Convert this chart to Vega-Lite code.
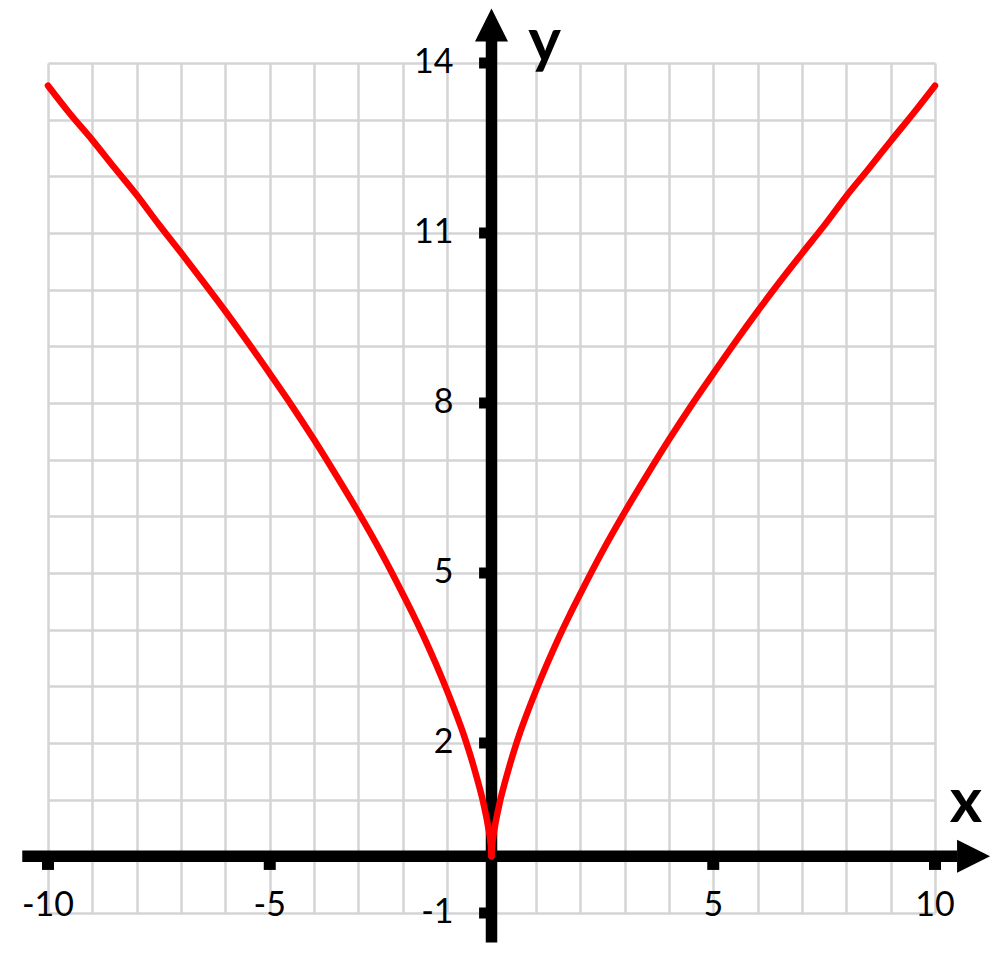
{
  "$schema": "https://vega.github.io/schema/vega-lite/v6.json",
  "width": 887,
  "height": 850,
  "autosize": {"type": "none"},
  "padding": {"left": 48, "top": 63, "right": 65, "bottom": 45},
  "background": "white",
  "config": {
    "view": {"stroke": null},
    "axis": {
      "grid": true,
      "gridColor": "#d4d4d4",
      "gridWidth": 2.5,
      "gridOpacity": 1,
      "labels": false,
      "ticks": false,
      "domain": false,
      "title": null
    }
  },
  "datasets": {
    "curve": [
      {"branch": "left", "x": -10, "y": 13.6},
      {"branch": "left", "x": -9.5, "y": 13.1},
      {"branch": "left", "x": -9, "y": 12.64},
      {"branch": "left", "x": -8.5, "y": 12.15},
      {"branch": "left", "x": -8, "y": 11.67},
      {"branch": "left", "x": -7.5, "y": 11.15},
      {"branch": "left", "x": -7, "y": 10.65},
      {"branch": "left", "x": -6.5, "y": 10.14},
      {"branch": "left", "x": -6, "y": 9.62},
      {"branch": "left", "x": -5.5, "y": 9.08},
      {"branch": "left", "x": -5, "y": 8.52},
      {"branch": "left", "x": -4.5, "y": 7.95},
      {"branch": "left", "x": -4, "y": 7.35},
      {"branch": "left", "x": -3.5, "y": 6.72},
      {"branch": "left", "x": -3, "y": 6.07},
      {"branch": "left", "x": -2.5, "y": 5.38},
      {"branch": "left", "x": -2, "y": 4.63},
      {"branch": "left", "x": -1.75, "y": 4.24},
      {"branch": "left", "x": -1.5, "y": 3.83},
      {"branch": "left", "x": -1.25, "y": 3.39},
      {"branch": "left", "x": -1, "y": 2.92},
      {"branch": "left", "x": -0.8, "y": 2.52},
      {"branch": "left", "x": -0.65, "y": 2.2},
      {"branch": "left", "x": -0.5, "y": 1.84},
      {"branch": "left", "x": -0.4, "y": 1.58},
      {"branch": "left", "x": -0.3, "y": 1.3},
      {"branch": "left", "x": -0.2, "y": 1.0},
      {"branch": "left", "x": -0.15, "y": 0.82},
      {"branch": "left", "x": -0.1, "y": 0.63},
      {"branch": "left", "x": -0.06, "y": 0.45},
      {"branch": "left", "x": -0.03, "y": 0.3},
      {"branch": "left", "x": -0.01, "y": 0.15},
      {"branch": "left", "x": 0, "y": 0},
      {"branch": "right", "x": 0, "y": 0},
      {"branch": "right", "x": 0.01, "y": 0.15},
      {"branch": "right", "x": 0.03, "y": 0.3},
      {"branch": "right", "x": 0.06, "y": 0.45},
      {"branch": "right", "x": 0.1, "y": 0.63},
      {"branch": "right", "x": 0.15, "y": 0.82},
      {"branch": "right", "x": 0.2, "y": 1.0},
      {"branch": "right", "x": 0.3, "y": 1.3},
      {"branch": "right", "x": 0.4, "y": 1.58},
      {"branch": "right", "x": 0.5, "y": 1.84},
      {"branch": "right", "x": 0.65, "y": 2.2},
      {"branch": "right", "x": 0.8, "y": 2.52},
      {"branch": "right", "x": 1, "y": 2.92},
      {"branch": "right", "x": 1.25, "y": 3.39},
      {"branch": "right", "x": 1.5, "y": 3.83},
      {"branch": "right", "x": 1.75, "y": 4.24},
      {"branch": "right", "x": 2, "y": 4.63},
      {"branch": "right", "x": 2.5, "y": 5.38},
      {"branch": "right", "x": 3, "y": 6.07},
      {"branch": "right", "x": 3.5, "y": 6.72},
      {"branch": "right", "x": 4, "y": 7.35},
      {"branch": "right", "x": 4.5, "y": 7.95},
      {"branch": "right", "x": 5, "y": 8.52},
      {"branch": "right", "x": 5.5, "y": 9.08},
      {"branch": "right", "x": 6, "y": 9.62},
      {"branch": "right", "x": 6.5, "y": 10.14},
      {"branch": "right", "x": 7, "y": 10.64},
      {"branch": "right", "x": 7.5, "y": 11.13},
      {"branch": "right", "x": 8, "y": 11.65},
      {"branch": "right", "x": 8.5, "y": 12.13},
      {"branch": "right", "x": 9, "y": 12.62},
      {"branch": "right", "x": 9.5, "y": 13.1},
      {"branch": "right", "x": 10, "y": 13.6}
    ],
    "axisLines": [
      {"x": -10.58, "x2": 10.5, "y": 0, "y2": 0},
      {"x": 0, "x2": 0, "y": -1.52, "y2": 14.4}
    ],
    "arrows": [
      {"dir": "right", "x": 10.87, "y": 0},
      {"dir": "up", "x": 0, "y": 14.67}
    ],
    "xTicks": [
      {"x": -10, "label": "-10"},
      {"x": -5, "label": "-5"},
      {"x": 5, "label": "5"},
      {"x": 10, "label": "10"}
    ],
    "yTicks": [
      {"y": 14, "label": "14"},
      {"y": 11, "label": "11"},
      {"y": 8, "label": "8"},
      {"y": 5, "label": "5"},
      {"y": 2, "label": "2"},
      {"y": -1, "label": "-1"}
    ],
    "axisNames": [
      {"x": 10.7, "y": 0.6, "name": "x"},
      {"x": 1.2, "y": 14.02, "name": "y"}
    ]
  },
  "layer": [
    {
      "data": {"name": "axisLines"},
      "mark": {"type": "rule", "color": "black", "strokeWidth": 11.5, "strokeCap": "butt"},
      "encoding": {
        "x": {"field": "x", "type": "quantitative", "scale": {"domain": [-10, 10], "nice": false, "zero": false}, "axis": {"values": [-10, -9, -8, -7, -6, -5, -4, -3, -2, -1, 0, 1, 2, 3, 4, 5, 6, 7, 8, 9, 10]}},
        "x2": {"field": "x2"},
        "y": {"field": "y", "type": "quantitative", "scale": {"domain": [-1, 14], "nice": false, "zero": false}, "axis": {"values": [-1, 0, 1, 2, 3, 4, 5, 6, 7, 8, 9, 10, 11, 12, 13, 14]}},
        "y2": {"field": "y2"}
      }
    },
    {
      "data": {"name": "xTicks"},
      "mark": {"type": "rule", "color": "black", "strokeWidth": 12, "strokeCap": "butt"},
      "encoding": {
        "x": {"field": "x", "type": "quantitative"},
        "y": {"datum": 0, "type": "quantitative"},
        "y2": {"datum": -0.24}
      }
    },
    {
      "data": {"name": "yTicks"},
      "mark": {"type": "rule", "color": "black", "strokeWidth": 11, "strokeCap": "butt"},
      "encoding": {
        "y": {"field": "y", "type": "quantitative"},
        "x": {"datum": 0, "type": "quantitative"},
        "x2": {"datum": -0.28}
      }
    },
    {
      "data": {"name": "arrows"},
      "mark": {"type": "point", "filled": true, "color": "black", "opacity": 1, "size": 1089},
      "encoding": {
        "x": {"field": "x", "type": "quantitative"},
        "y": {"field": "y", "type": "quantitative"},
        "shape": {
          "field": "dir",
          "type": "nominal",
          "scale": {"domain": ["right", "up"], "range": ["M1,0L-1,-1L-1,1Z", "M0,-1L-1,1L1,1Z"]},
          "legend": null
        }
      }
    },
    {
      "data": {"name": "curve"},
      "mark": {"type": "line", "color": "#ff0000", "strokeWidth": 6.5, "interpolate": "monotone", "strokeCap": "round"},
      "encoding": {
        "x": {"field": "x", "type": "quantitative"},
        "y": {"field": "y", "type": "quantitative"},
        "detail": {"field": "branch"}
      }
    },
    {
      "data": {"name": "xTicks"},
      "mark": {"type": "text", "font": "Lato", "fontSize": 34, "align": "center", "baseline": "middle", "dy": 50, "color": "black"},
      "encoding": {
        "x": {"field": "x", "type": "quantitative"},
        "y": {"datum": 0, "type": "quantitative"},
        "text": {"field": "label"}
      }
    },
    {
      "data": {"name": "yTicks"},
      "mark": {"type": "text", "font": "Lato", "fontSize": 34, "align": "right", "baseline": "middle", "dx": -38, "color": "black"},
      "encoding": {
        "y": {"field": "y", "type": "quantitative"},
        "x": {"datum": 0, "type": "quantitative"},
        "text": {"field": "label"}
      }
    },
    {
      "data": {"name": "axisNames"},
      "mark": {"type": "text", "font": "Lato", "fontSize": 62, "fontWeight": "bold", "align": "center", "baseline": "alphabetic", "color": "black"},
      "encoding": {
        "x": {"field": "x", "type": "quantitative"},
        "y": {"field": "y", "type": "quantitative"},
        "text": {"field": "name"}
      }
    }
  ]
}
